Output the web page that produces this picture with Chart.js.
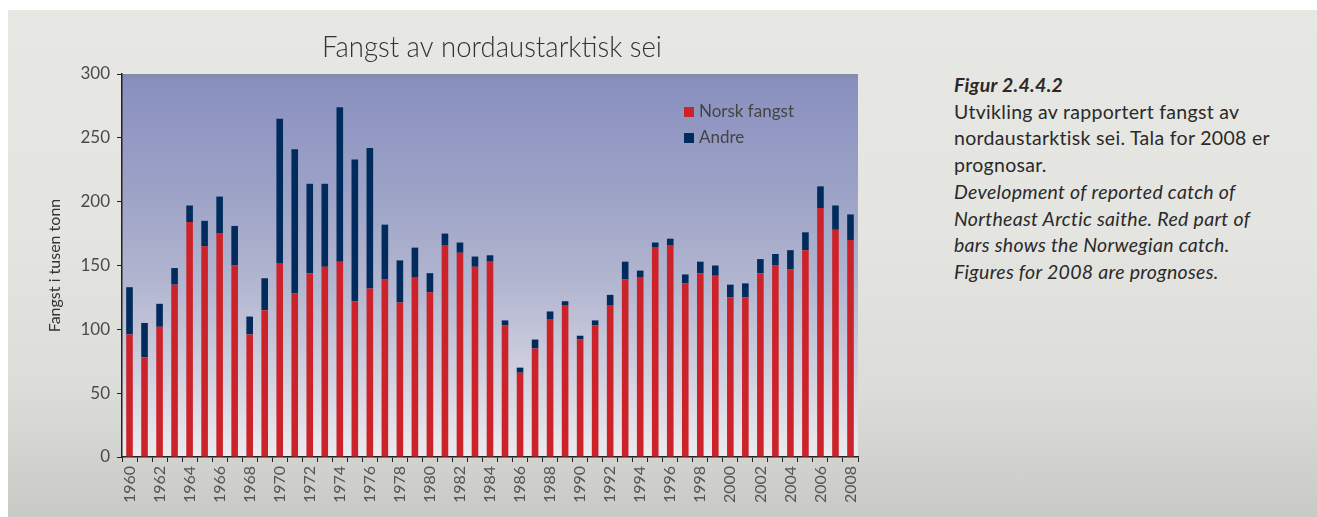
<!DOCTYPE html>
<html>
<head>
<meta charset="utf-8">
<script src="https://cdn.jsdelivr.net/npm/chart.js@4.4.0/dist/chart.umd.min.js"></script>
<style>
    html, body { margin: 0; padding: 0; background: #fff; }
    body { width: 1317px; height: 517px; position: relative; overflow: hidden; }
    #panel {
        position: absolute; left: 8px; top: 10px; right: 0; bottom: 0;
        background: linear-gradient(#e7e7e3 0%, #e4e4e0 45%, #dcdcd8 75%, #c9c9c5 100%);
    }
    #wrap { position: absolute; left: 0; top: 0; width: 900px; height: 517px; }
    #caption {
        position: absolute; left: 954px; top: 72px;
        font-family: Lato, "Open Sans", sans-serif; font-size: 19.5px; line-height: 26.7px;
        letter-spacing: 0.3px; color: #2a2a2a; white-space: nowrap;
    }
    #caption b { font-weight: bold; font-style: italic; }
    #caption i { font-style: italic; }
</style>
</head>
<body>
<div id="panel"></div>
<div id="wrap"><canvas id="catchChart" width="900" height="517"></canvas></div>
<div id="caption">
    <b>Figur 2.4.4.2</b><br>
    Utvikling av rapportert fangst av<br>
    nordaustarktisk sei. Tala for 2008 er<br>
    prognosar.<br>
    <i>Development of reported catch of<br>
    Northeast Arctic saithe. Red part of<br>
    bars shows the Norwegian catch.<br>
    Figures for 2008 are prognoses.</i>
</div>
<script>
// DATA
const years = ['1960', '1961', '1962', '1963', '1964', '1965', '1966', '1967', '1968', '1969',
    '1970', '1971', '1972', '1973', '1974', '1975', '1976', '1977', '1978', '1979',
    '1980', '1981', '1982', '1983', '1984', '1985', '1986', '1987', '1988', '1989',
    '1990', '1991', '1992', '1993', '1994', '1995', '1996', '1997', '1998', '1999',
    '2000', '2001', '2002', '2003', '2004', '2005', '2006', '2007', '2008'];

const norsk = [96, 78, 102, 135, 184, 165, 175, 150, 96, 115,
    152, 128, 144, 149, 153, 122, 132, 139, 121, 141,
    129, 166, 160, 149, 153, 103, 66, 85, 108, 119,
    92, 103, 119, 139, 141, 164, 166, 136, 144, 142,
    125, 125, 144, 150, 147, 162, 195, 178, 170];

const andre = [37, 27, 18, 13, 13, 20, 29, 31, 14, 25,
    113, 113, 70, 65, 121, 111, 110, 43, 33, 23,
    15, 9, 8, 8, 5, 4, 4, 7, 6, 3,
    3, 4, 8, 14, 5, 4, 5, 7, 9, 8,
    10, 11, 11, 9, 15, 14, 17, 19, 20];

const yTicks = [0, 50, 100, 150, 200, 250, 300];

const titleText = 'Fangst av nordaustarktisk sei';
const FONT = 'Lato, "Open Sans", sans-serif';

// PLUGINS
const plotBackground = {
    id: 'plotBackground',
    beforeDraw(chart) {
        const { ctx, chartArea: a } = chart;
        const g = ctx.createLinearGradient(0, a.top, 0, a.bottom);
        g.addColorStop(0, '#8489ad');
        g.addColorStop(0.02, '#8a90bf');
        g.addColorStop(0.3, '#9ca2c6');
        g.addColorStop(0.55, '#b2b6d0');
        g.addColorStop(0.8, '#d2d3e0');
        g.addColorStop(1, '#ebebee');
        ctx.save();
        ctx.fillStyle = g;
        ctx.fillRect(a.left, a.top, a.right - a.left, a.bottom - a.top);
        ctx.restore();
    }
};

const titleAndLegend = {
    id: 'titleAndLegend',
    afterDraw(chart) {
        const { ctx, chartArea: a } = chart;
        ctx.save();
        // title, squeezed to the narrow face of the original
        ctx.font = '300 30px ' + FONT;
        ctx.fillStyle = '#333';
        ctx.textBaseline = 'alphabetic';
        const w = ctx.measureText(titleText).width;
        const sx = 340 / w;
        ctx.translate((a.left + a.right) / 2 + 2, 57);
        ctx.scale(sx, 1);
        ctx.textAlign = 'center';
        ctx.fillText(titleText, 0, 0);
        ctx.restore();

        // legend inside the plot
        ctx.save();
        ctx.font = '17px ' + FONT;
        ctx.textAlign = 'left';
        chart.data.datasets.forEach((ds, i) => {
            const y = a.top + 33 + i * 26;
            ctx.fillStyle = ds.backgroundColor;
            ctx.fillRect(a.right - 174, y, 10, 10);
            ctx.fillStyle = '#444';
            ctx.fillText(ds.label, a.right - 159, y + 10);
        });
        ctx.restore();
    }
};

// CHART
const ctx = document.getElementById('catchChart').getContext('2d');
const catchChart = new Chart(ctx, {
    type: 'bar',
    data: {
        labels: years,
        datasets: [{
            label: 'Norsk fangst',
            data: norsk,
            backgroundColor: '#cc232b',
            barPercentage: 0.44,
            categoryPercentage: 1
        }, {
            label: 'Andre',
            data: andre,
            backgroundColor: '#002b5c',
            barPercentage: 0.44,
            categoryPercentage: 1
        }]
    },
    options: {
        responsive: false,
        animation: false,
        layout: { padding: { left: 44, right: 42, top: 74, bottom: 0 } },
        plugins: {
            legend: { display: false },
            title: { display: false },
            tooltip: { enabled: false }
        },
        scales: {
            x: {
                stacked: true,
                afterFit: s => { s.height = 60; },
                grid: { drawOnChartArea: false, drawTicks: true, tickLength: 5, color: '#222' },
                border: { display: true, color: '#222', width: 1.5 },
                ticks: {
                    autoSkip: false, minRotation: 90, maxRotation: 90, padding: 4,
                    color: '#555', font: { family: FONT, size: 16 },
                    callback: (v, i) => i % 2 === 0 ? years[i] : ''
                }
            },
            y: {
                stacked: true,
                min: 0, max: 300,
                afterFit: s => { s.width = 78; },
                afterBuildTicks: s => { s.ticks = yTicks.map(v => ({ value: v })); },
                grid: { drawOnChartArea: false, drawTicks: true, tickLength: 5, color: '#222' },
                border: { display: true, color: '#222', width: 1.5 },
                ticks: { padding: 7, color: '#4a4a4a', font: { family: FONT, size: 17 } },
                title: {
                    display: true, text: 'Fangst i tusen tonn', color: '#333',
                    padding: { top: 1, bottom: 0 }, font: { family: FONT, size: 16 }
                }
            }
        }
    },
    plugins: [plotBackground, titleAndLegend]
});
</script>
</body>
</html>
